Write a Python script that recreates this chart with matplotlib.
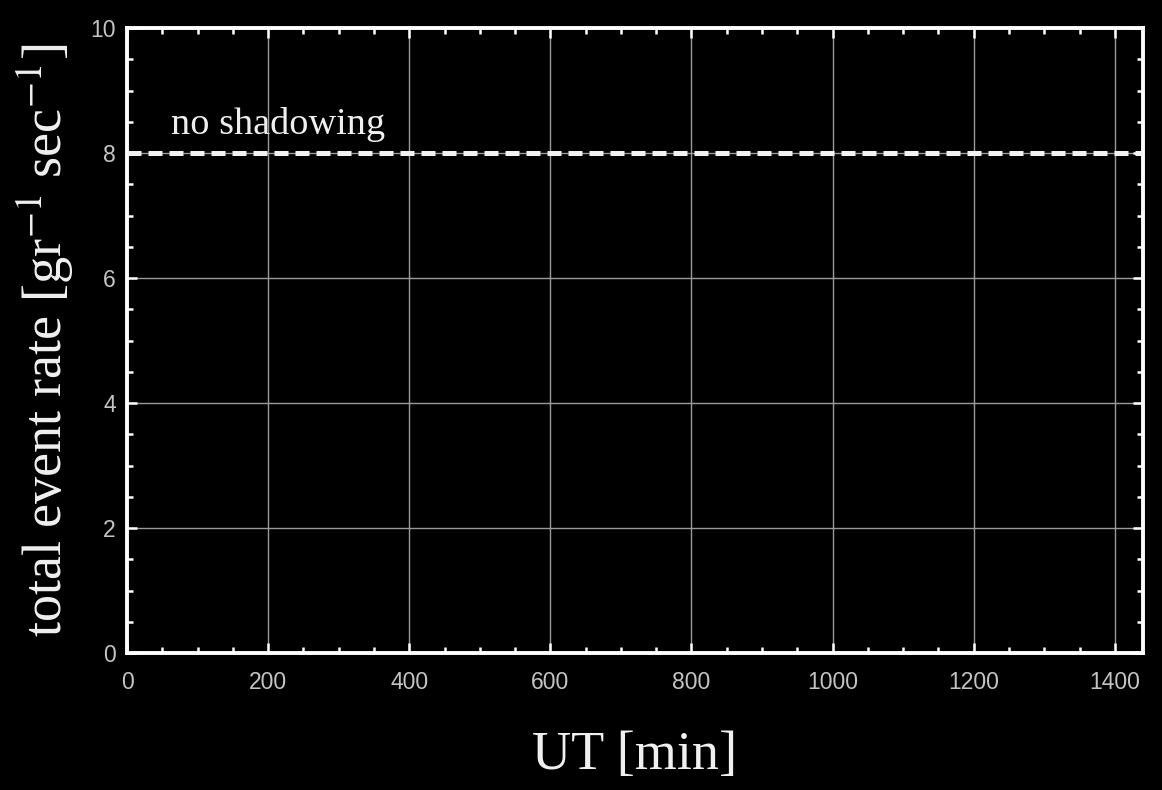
import matplotlib
matplotlib.use("Agg")
import matplotlib.pyplot as plt
from matplotlib.ticker import MultipleLocator

plt.rcParams["mathtext.fontset"] = "stix"

ut_minutes = [0, 1440]
rate_no_shadowing = [8.0, 8.0]
x_ticks = [0, 200, 400, 600, 800, 1000, 1200, 1400]
y_ticks = [0, 2, 4, 6, 8, 10]
curve_label = "no shadowing"

fig = plt.figure(figsize=(11.62, 7.90), dpi=100, facecolor="black")
ax = fig.add_axes([127/1162, 1 - 653/790, (1143-127)/1162, (653-28)/790])
ax.set_facecolor("black")

ax.plot(ut_minutes, rate_no_shadowing, color="#f2f2f2", lw=3.6,
        linestyle=(0, (2.8, 1.4)), zorder=3)
ax.text(62, 8.3, curve_label, color="#eeeeee", fontsize=27.5,
        family="Liberation Serif", ha="left", va="baseline")

ax.set_xlim(0, 1440)
ax.set_ylim(0, 10)
ax.set_xticks(x_ticks)
ax.set_yticks(y_ticks)
ax.xaxis.set_minor_locator(MultipleLocator(50))
ax.yaxis.set_minor_locator(MultipleLocator(0.5))
ax.grid(True, which="major", color="#9a9a9a", lw=1.0, zorder=0)
ax.tick_params(which="both", direction="in", top=True, right=True,
               colors="white", labelcolor="#c4c4c4", labelsize=16.5, width=1.8)
ax.tick_params(which="major", length=7)
ax.tick_params(which="minor", length=4)
ax.tick_params(axis="x", which="major", pad=13)
ax.tick_params(axis="y", which="major", pad=8)
for lab in ax.get_xticklabels() + ax.get_yticklabels():
    lab.set_family("Liberation Sans")
for s in ax.spines.values():
    s.set_color("white")
    s.set_linewidth(2.8)

ax.set_xlabel("UT [min]", color="#f0f0f0", fontsize=39,
              family="Liberation Serif", labelpad=26)
ax.set_ylabel(r"total event rate [gr$^{-1}$ sec$^{-1}$]", color="#f0f0f0",
              fontsize=39, family="Liberation Serif", labelpad=10)
fig.savefig("out.png", dpi=100, facecolor="black")
